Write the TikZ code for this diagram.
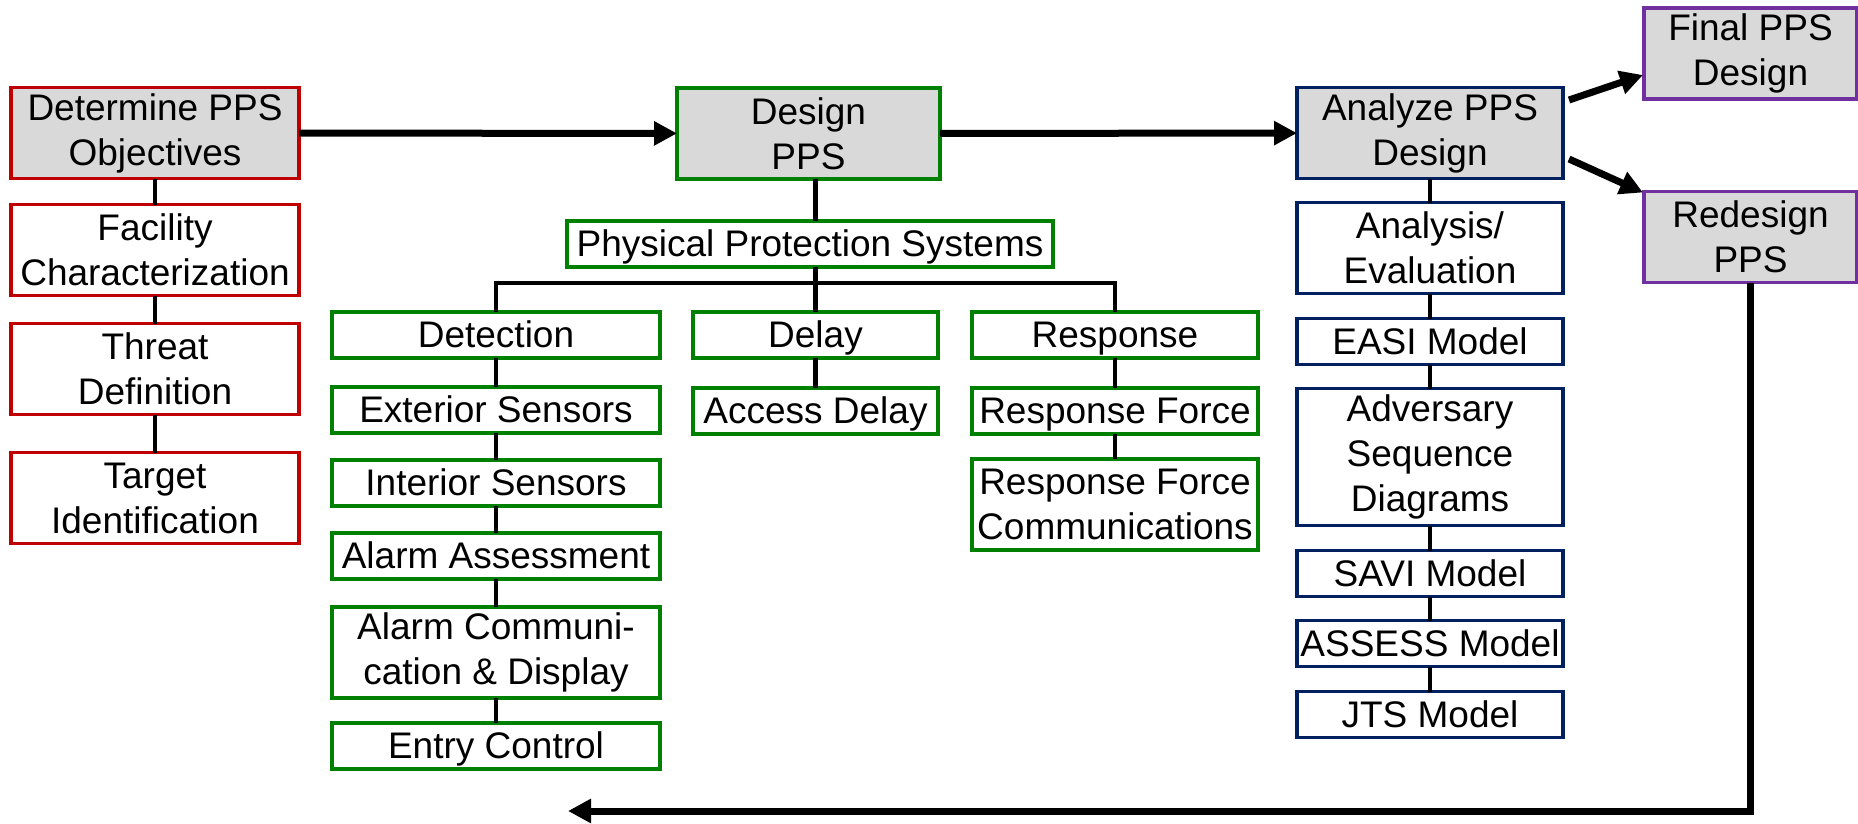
\documentclass[tikz,border=0pt]{standalone}
\usepackage{fontspec}
\setmainfont{Liberation Sans}
\usetikzlibrary{arrows.meta, positioning}
\definecolor{ppsred}{RGB}{192,0,0}
\definecolor{ppsgreen}{RGB}{0,128,0}
\definecolor{ppsnavy}{RGB}{0,32,96}
\definecolor{ppspurple}{RGB}{112,48,160}
\definecolor{ppsgray}{RGB}{217,217,217}

\begin{document}
\begin{tikzpicture}[
  ppsbox/.style={draw, line width=1.9pt, fill=white, inner sep=0pt, outer sep=0pt,
                 align=center, font=\fontsize{18.5}{22.5}\selectfont},
  onel/.style={minimum height=23pt, text height=13.3pt, text depth=0.6pt},
  twol/.style={minimum height=45.5pt},
  head/.style={fill=ppsgray},
  redbox/.style={ppsbox, draw=ppsred, minimum width=144pt},
  greenbox/.style={ppsbox, draw=ppsgreen},
  navybox/.style={ppsbox, draw=ppsnavy, minimum width=133pt},
  purplebox/.style={ppsbox, draw=ppspurple, fill=ppsgray, minimum width=106.5pt, twol},
  link/.style={line width=2.3pt},
  arr/.style={-{Triangle[length=11.5pt,width=11.5pt]}, line width=3.5pt}
]
\useasboundingbox (0,0) rectangle (929pt,-412pt);

\node[redbox, head, twol] (objectives) at (77.5pt,-66.5pt) {Determine PPS\\Objectives};
\node[redbox, twol, below=13pt of objectives] (facility) {Facility\\Characterization};
\node[redbox, twol, below=14pt of facility] (threat) {Threat\\Definition};
\node[redbox, twol, below=19pt of threat] (target) {Target\\Identification};

\node[greenbox, head, twol, minimum width=131.5pt] (design) at (404.25pt,-66.75pt) {Design\\PPS};
\node[greenbox, onel, minimum width=243pt] (pps) at (405pt,-122pt) {Physical Protection Systems};
\node[greenbox, onel, minimum width=164pt] (detection) at (248pt,-167.5pt) {Detection};
\node[greenbox, onel, minimum width=164pt, below=14.5pt of detection] (exterior) {Exterior Sensors};
\node[greenbox, onel, minimum width=164pt, below=13.5pt of exterior] (interior) {Interior Sensors};
\node[greenbox, onel, minimum width=164pt, below=13.5pt of interior] (assessment) {Alarm Assessment};
\node[greenbox, twol, minimum width=164pt, below=14pt of assessment] (display) {Alarm Communi-\\cation \& Display};
\node[greenbox, onel, minimum width=164pt, below=12.5pt of display] (entry) {Entry Control};
\node[greenbox, onel, minimum width=122.5pt] (delay) at (407.75pt,-167.5pt) {Delay};
\node[greenbox, onel, minimum width=122.5pt, below=15pt of delay] (access) {Access Delay};
\node[greenbox, onel, minimum width=143pt] (response) at (557.5pt,-167.5pt) {Response};
\node[greenbox, onel, minimum width=143pt, below=15pt of response] (force) {Response Force};
\node[greenbox, twol, minimum width=143pt, below=12.5pt of force] (forcecomms) {Response Force\\Communications};

\node[navybox, head, twol] (analyze) at (715pt,-66.5pt) {Analyze PPS\\Design};
\node[navybox, twol, below=12pt of analyze] (evaluation) {Analysis/\\Evaluation};
\node[navybox, onel, below=12.5pt of evaluation] (easi) {EASI Model};
\node[navybox, minimum height=68.5pt, below=12pt of easi] (adversary) {Adversary\\Sequence\\Diagrams};
\node[navybox, onel, below=12.5pt of adversary] (savi) {SAVI Model};
\node[navybox, onel, below=12pt of savi] (assess) {ASSESS Model};
\node[navybox, onel, below=12.5pt of assess] (jts) {JTS Model};

\node[purplebox] (final) at (875.25pt,-26.75pt) {Final PPS\\Design};
\node[purplebox] (redesign) at (875.25pt,-118.5pt) {Redesign\\PPS};

\foreach \a/\b in {objectives/facility,facility/threat,threat/target,
                   detection/exterior,exterior/interior,interior/assessment,assessment/display,display/entry,
                   delay/access,response/force,force/forcecomms,
                   analyze/evaluation,evaluation/easi,easi/adversary,adversary/savi,savi/assess,assess/jts}
  \draw[link] (\a) -- (\b);
\draw[link] (design.south -| delay.north) -- (pps.north -| delay.north);
\draw[link] (pps.south -| delay.north) -- (delay.north);
\draw[link] (detection.north) -- ++(0,14.5pt) -| (response.north);

\draw[arr] (objectives) -- (design);
\draw[arr] (design) -- (analyze);
\draw[arr] ([xshift=3pt,yshift=16.5pt]analyze.east) -- ([xshift=-0.5pt,yshift=-10.75pt]final.west);
\draw[arr] ([xshift=3pt,yshift=-13pt]analyze.east) -- ([xshift=-0.5pt,yshift=-0.5pt]redesign.north west);
\coordinate (back) at (284pt,-405.5pt);
\draw[arr] (redesign.south) |- (back);
\end{tikzpicture}
\end{document}
